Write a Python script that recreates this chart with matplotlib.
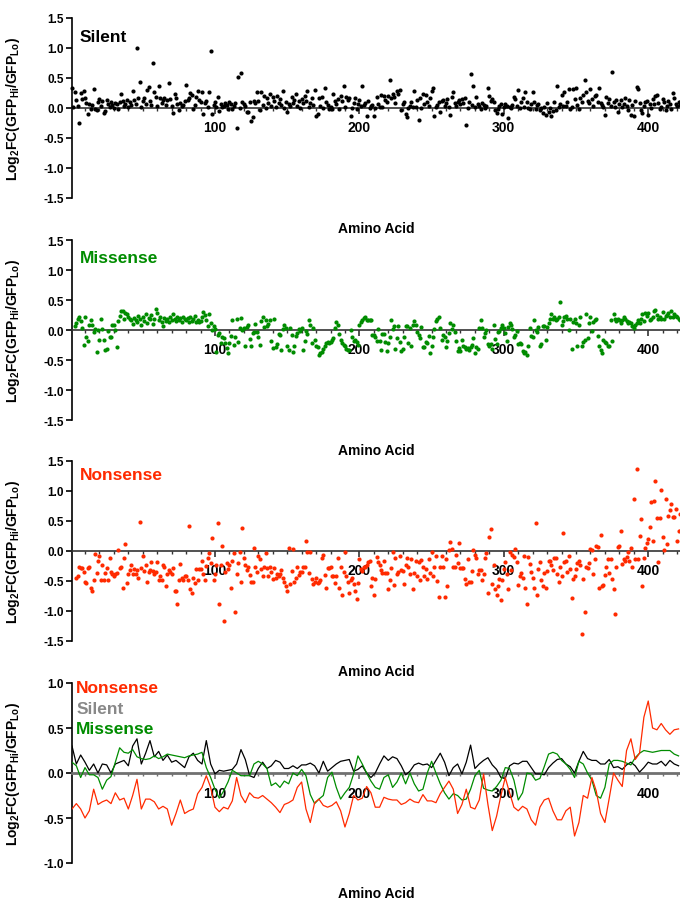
import numpy as np
import matplotlib
matplotlib.use('Agg')
import matplotlib.pyplot as plt
from matplotlib.ticker import MultipleLocator

plt.rcParams['font.family'] = ['Liberation Sans', 'DejaVu Sans']
plt.rcParams['font.weight'] = 'bold'
plt.rcParams['mathtext.fontset'] = 'custom'
plt.rcParams['mathtext.rm'] = 'Liberation Sans:bold'
plt.rcParams['mathtext.it'] = 'Liberation Sans:bold'
plt.rcParams['mathtext.bf'] = 'Liberation Sans:bold'
plt.rcParams['mathtext.default'] = 'bf'
plt.rcParams['axes.unicode_minus'] = False

RED   = '#ff2a00'
GREEN = '#008c00'
BLACK = '#000000'
GRAY  = '#888888'

# per amino acid Log2FC values (silent starts at aa 1, missense at 3, nonsense at 4)
silent_start = 1
silent = [
    0.34, 0.02, 0.26, 0.14, 0.04, -0.25, 0.25, 0.15, 0.28, 0.17,
    0.08, -0.10, 0.07, -0.02, 0.05, 0.31, -0.02, -0.04, 0.10, 0.15,
    0.03, 0.12, -0.08, -0.05, 0.14, 0.07, 0.02, 0.10, 0.05, 0.00,
    0.08, 0.06, -0.02, 0.10, 0.24, 0.12, 0.03, 0.07, 0.14, 0.02,
    0.10, 0.05, 0.29, 0.14, 0.06, 1.00, 0.16, 0.43, 0.02, 0.11,
    0.17, 0.07, 0.30, 0.35, 0.12, 0.05, 0.75, 0.27, 0.19, 0.04,
    0.37, 0.16, 0.08, 0.14, 0.17, 0.05, 0.13, 0.42, 0.15, 0.04,
    -0.09, 0.23, 0.16, 0.06, -0.04, 0.08, 0.03, 0.05, 0.12, 0.39,
    0.13, 0.17, 0.25, 0.22, -0.02, 0.05, 0.18, 0.28, 0.13, 0.10,
    0.27, -0.10, 0.08, 0.12, 0.02, 0.27, 0.95, -0.10, 0.05, 0.10,
    0.02, 0.18, -0.05, 0.06, 0.01, 0.03, 0.09, 0.05, -0.02, 0.10,
    0.07, -0.01, 0.04, 0.08, -0.33, 0.52, 0.00, 0.59, 0.10, 0.06,
    0.04, -0.06, -0.07, 0.10, -0.22, -0.15, 0.12, 0.08, 0.27, 0.11,
    -0.04, 0.26, 0.05, 0.20, 0.00, 0.17, 0.08, 0.24, 0.03, 0.18,
    0.12, 0.02, 0.20, 0.09, 0.15, 0.05, 0.28, 0.00, 0.10, -0.07,
    0.06, 0.03, 0.19, 0.08, 0.13, 0.24, 0.04, 0.11, 0.00, 0.15,
    0.08, 0.20, 0.12, 0.28, 0.02, 0.09, 0.17, 0.05, 0.30, -0.13,
    -0.10, 0.16, 0.03, 0.18, 0.00, 0.33, 0.10, 0.05, -0.02, 0.01,
    -0.02, 0.24, 0.12, 0.07, 0.15, -0.02, 0.20, 0.11, 0.37, 0.02,
    0.19, 0.13, 0.17, -0.13, 0.00, 0.08, 0.16, -0.02, 0.07, 0.13,
    0.03, 0.36, 0.05, 0.09, -0.13, 0.12, 0.00, 0.03, 0.05, -0.14,
    0.00, 0.19, 0.06, 0.01, 0.22, 0.02, 0.20, 0.13, 0.10, 0.20,
    0.46, 0.16, 0.24, 0.18, 0.08, 0.29, 0.23, 0.30, -0.03, 0.06,
    0.10, -0.10, -0.15, 0.00, 0.03, 0.10, 0.02, 0.29, 0.02, 0.13,
    -0.20, 0.17, 0.00, 0.24, 0.07, 0.21, 0.10, 0.03, 0.17, 0.28,
    0.33, -0.13, 0.01, 0.05, 0.10, -0.07, 0.12, 0.14, 0.04, 0.09,
    0.15, 0.02, -0.12, 0.18, 0.26, 0.08, 0.03, 0.10, 0.13, 0.06,
    0.15, 0.09, 0.17, -0.28, 0.00, 0.10, 0.56, 0.05, 0.37, 0.02,
    0.18, 0.06, 0.03, -0.02, 0.08, 0.05, 0.00, 0.03, 0.33, 0.20,
    0.12, 0.15, 0.10, -0.04, -0.08, -0.02, 0.04, 0.06, -0.10, 0.02,
    0.07, 0.03, -0.16, 0.02, 0.00, 0.05, 0.18, 0.15, 0.03, 0.30,
    0.00, 0.10, 0.16, 0.02, 0.27, 0.10, 0.00, -0.02, 0.06, 0.26,
    0.10, -0.01, 0.05, 0.07, -0.03, 0.00, -0.08, 0.02, -0.12, 0.08,
    -0.06, 0.00, -0.14, -0.05, 0.10, -0.03, 0.36, 0.02, 0.06, 0.22,
    0.03, 0.26, 0.03, 0.10, 0.32, -0.02, 0.02, 0.32, 0.15, 0.33,
    0.05, -0.01, 0.16, 0.10, 0.21, 0.46, 0.26, 0.12, 0.08, 0.32,
    0.15, 0.03, 0.20, 0.22, 0.10, 0.33, 0.08, 0.05, 0.02, -0.11,
    0.18, 0.08, 0.15, 0.04, 0.60, 0.10, 0.02, 0.13, -0.06, 0.07,
    0.14, 0.02, 0.07, 0.17, 0.03, -0.03, 0.14, -0.12, 0.05, -0.13,
    0.12, 0.35, 0.32, 0.08, -0.04, -0.08, 0.04, 0.10, 0.12, -0.11,
    0.07, 0.00, 0.15, 0.06, 0.20, 0.22, 0.08, -0.02, 0.02, 0.15,
    0.10, -0.03, 0.04, 0.12, 0.07, -0.02, 0.25, 0.16, 0.07, 0.03,
    0.10, 0.05, 0.12,
]

missense_start = 3
missense = [
    0.07, 0.12, 0.18, 0.22, 0.15, 0.03, -0.25, 0.21, -0.12, -0.19,
    0.08, 0.16, 0.09, -0.03, 0.02, -0.37, 0.00, -0.17, 0.18, 0.02,
    -0.17, -0.33, -0.31, -0.02, -0.12, -0.12, 0.08, 0.08, 0.00, -0.28,
    0.15, 0.23, 0.32, 0.32, 0.19, 0.29, 0.26, 0.22, 0.19, 0.17,
    0.10, 0.20, 0.16, 0.14, 0.24, 0.18, 0.08, 0.22, 0.15, 0.27,
    0.12, 0.20, 0.18, 0.25, 0.10, 0.18, 0.35, 0.28, 0.17, 0.21,
    0.14, 0.07, 0.20, 0.15, 0.19, 0.13, 0.22, 0.17, 0.26, 0.18,
    0.15, 0.21, 0.17, 0.20, 0.14, 0.21, 0.18, 0.16, 0.20, 0.13,
    0.22, 0.15, 0.19, 0.24, 0.14, 0.16, 0.13, 0.15, 0.22, 0.30,
    0.25, 0.16, 0.07, 0.26, 0.12, 0.00, 0.07, 0.02, -0.37, -0.08,
    -0.05, -0.22, -0.12, -0.14, -0.22, -0.30, -0.38, -0.22, -0.10, 0.17,
    -0.25, -0.12, 0.18, -0.20, 0.04, 0.20, 0.00, 0.04, -0.27, 0.05,
    0.08, -0.15, -0.27, -0.05, -0.03, 0.10, -0.03, -0.12, -0.25, 0.15,
    0.22, 0.05, 0.16, 0.06, 0.10, 0.17, -0.18, -0.30, 0.18, -0.29,
    -0.24, -0.06, -0.09, -0.33, 0.02, 0.08, 0.03, -0.26, -0.33, 0.03,
    -0.08, -0.36, -0.27, -0.10, -0.05, 0.01, -0.02, 0.04, -0.33, -0.19,
    -0.02, -0.06, 0.16, 0.09, -0.22, 0.04, -0.17, -0.26, -0.28, -0.41,
    -0.38, -0.36, -0.32, -0.27, -0.21, -0.20, -0.21, -0.20, -0.17, -0.13,
    0.04, 0.13, 0.08, -0.06, -0.16, -0.22, -0.25, -0.27, -0.31, -0.33,
    -0.33, 0.00, -0.12, -0.18, -0.16, -0.20, -0.25, 0.09, 0.14, 0.17,
    0.20, 0.22, 0.17, 0.16, 0.17, 0.16, -0.08, -0.09, -0.12, -0.19,
    0.02, -0.18, -0.34, -0.06, -0.07, -0.20, -0.35, -0.21, -0.12, 0.16,
    0.02, 0.06, -0.31, -0.14, 0.06, -0.20, -0.35, -0.32, -0.12, 0.07,
    0.06, -0.22, 0.04, -0.27, 0.09, 0.15, 0.08, -0.03, -0.08, -0.13,
    0.05, -0.28, -0.29, -0.20, -0.22, -0.10, -0.39, -0.27, -0.12, 0.01,
    0.15, 0.19, 0.21, 0.04, -0.17, -0.08, -0.11, -0.28, -0.18, -0.05,
    0.12, 0.02, 0.08, -0.04, -0.18, -0.35, -0.30, -0.35, -0.17, -0.26,
    -0.29, -0.32, -0.30, -0.33, -0.29, -0.25, -0.14, -0.38, -0.29, -0.31,
    0.04, 0.17, 0.03, -0.12, -0.05, 0.00, -0.24, -0.27, -0.24, -0.32,
    0.09, -0.15, -0.24, -0.04, -0.02, 0.04, 0.08, 0.04, -0.05, -0.19,
    0.05, 0.12, 0.08, 0.01, -0.12, -0.08, -0.02, -0.23, -0.22, -0.24,
    -0.35, -0.38, -0.36, -0.41, -0.26, 0.04, -0.10, -0.12, 0.16, 0.00,
    -0.03, 0.05, -0.27, -0.23, 0.07, 0.07, -0.16, 0.05, 0.12, 0.19,
    0.26, 0.18, 0.22, 0.16, 0.19, 0.21, 0.46, 0.08, 0.15, 0.21,
    0.24, 0.19, 0.00, 0.19, -0.31, 0.14, 0.18, 0.11, -0.27, 0.08,
    0.21, -0.27, -0.20, -0.16, 0.26, -0.14, 0.12, 0.21, -0.02, 0.14,
    0.17, 0.19, -0.10, -0.26, -0.33, -0.39, -0.16, -0.20, -0.21, -0.26,
    -0.26, 0.17, -0.18, 0.26, 0.18, 0.15, 0.19, 0.17, 0.11, 0.16,
    0.21, 0.19, 0.15, 0.11, 0.14, 0.12, 0.06, 0.03, 0.08, 0.12,
    0.17, 0.11, 0.19, 0.26, 0.15, 0.29, 0.24, 0.29, 0.17, 0.19,
    0.22, 0.32, 0.34, 0.25, 0.19, 0.22, 0.19, 0.30, 0.18, 0.23,
    0.25, 0.29, 0.22, 0.32, 0.22, 0.27, 0.23, 0.21, 0.19, 0.16,
]

nonsense_start = 4
nonsense = [
    -0.45, -0.41, -0.27, -0.28, -0.28, -0.35, -0.52, -0.53, -0.29, -0.27,
    -0.62, -0.67, -0.48, -0.05, -0.37, -0.16, -0.09, -0.48, -0.23, -0.49,
    -0.37, -0.29, -0.49, -0.12, -0.35, -0.38, -0.41, -0.38, -0.36, 0.01,
    -0.29, -0.26, -0.61, -0.12, 0.11, -0.54, -0.38, -0.31, -0.23, -0.38,
    -0.30, -0.38, -0.32, -0.45, 0.49, -0.28, -0.09, -0.33, -0.24, -0.51,
    -0.35, -0.31, -0.19, -0.33, -0.38, -0.35, -0.18, -0.49, -0.41, -0.49,
    -0.24, -0.26, -0.58, -0.39, -0.31, -0.35, -0.38, -0.29, -0.66, -0.66,
    -0.88, -0.49, -0.21, -0.45, -0.49, -0.41, -0.41, -0.48, 0.41, -0.63,
    -0.70, -0.45, -0.53, -0.30, -0.49, -0.30, -0.30, -0.16, -0.38, -0.48,
    -0.25, -0.11, -0.03, -0.20, 0.22, -0.48, -0.38, -0.23, 0.47, -0.88,
    -0.23, 0.09, -1.16, -0.35, -0.20, -0.30, -0.24, -0.61, -0.16, -0.03,
    -1.02, -0.39, -0.20, -0.01, -0.51, 0.39, -0.12, -0.24, -0.31, -0.27,
    -0.40, -0.51, -0.52, 0.05, -0.26, -0.35, -0.09, -0.14, -0.30, -0.41,
    -0.26, -0.03, -0.29, -0.42, -0.26, -0.35, -0.46, -0.29, -0.45, -0.39,
    -0.42, -0.38, -0.31, -0.45, -0.51, -0.58, -0.66, 0.05, -0.55, -0.33,
    0.03, -0.52, -0.45, -0.27, -0.40, -0.35, -0.35, -0.27, -0.27, 0.16,
    -0.02, -0.37, -0.01, -0.46, -0.55, -0.52, -0.45, -0.53, -0.51, -0.49,
    -0.12, -0.06, -0.40, -0.62, -0.29, -0.28, -0.26, -0.41, -0.42, -0.53,
    -0.41, -0.11, -0.62, -0.26, -0.74, -0.35, -0.01, -0.41, -0.51, -0.70,
    -0.49, -0.45, -0.55, -0.66, -0.80, -0.53, -0.13, -0.30, -0.33, -0.27,
    -0.27, -0.23, -0.19, -0.17, -0.58, -0.45, -0.74, -0.46, -0.10, -0.19,
    -0.24, -0.31, -0.37, -0.16, -0.36, -0.36, -0.64, -0.48, -0.29, -0.02,
    -0.56, -0.11, -0.38, -0.35, -0.09, -0.32, -0.33, -0.55, -0.23, -0.12,
    -0.26, -0.38, -0.14, -0.63, -0.37, -0.17, -0.41, -0.19, -0.49, -0.15,
    -0.26, -0.42, -0.30, -0.46, -0.13, -0.37, -0.02, -0.41, -0.27, -0.09,
    -0.50, -0.77, -0.27, -0.09, -0.27, -0.77, -0.13, -0.59, 0.01, 0.15,
    0.04, -0.27, -0.27, -0.07, -0.20, 0.14, -0.29, -0.29, -0.29, -0.47,
    -0.55, -0.13, -0.52, -0.52, -0.34, 0.02, -0.07, -0.12, -0.38, -0.31,
    -0.31, -0.48, -0.38, -0.11, -0.03, -0.70, 0.24, 0.37, -0.55, -0.24,
    -0.63, -0.74, -0.58, -0.46, -0.81, -0.49, -0.30, -0.18, -0.38, -0.63,
    -0.02, -0.32, -0.06, -0.10, 0.03, -0.19, -0.56, -0.41, -0.37, -0.45,
    -0.09, -0.61, -0.88, -0.10, -0.22, -0.35, -0.45, -0.61, 0.46, -0.74,
    -0.30, -0.18, -0.49, -0.58, -0.37, -0.62, -0.33, -0.16, -0.16, -0.24,
    -0.31, -0.12, -0.12, -0.39, -0.51, -0.27, -0.41, 0.30, -0.19, -0.17,
    -0.35, -0.08, -0.30, -0.79, -0.46, -0.41, -0.30, -0.20, -0.17, -0.24,
    -1.39, -0.46, -1.02, -0.27, -0.29, -0.20, 0.03, 0.01, -0.38, -0.13,
    0.09, 0.07, -0.61, 0.26, -0.59, -0.56, -0.40, -0.26, -0.14, -0.36,
    -0.13, -0.47, -0.63, -1.05, -0.27, 0.06, 0.09, 0.34, -0.22, -0.14,
    -0.16, -0.10, -0.02, -0.17, 0.05, -0.27, 0.86, -0.13, 1.36, -0.14,
    0.25, 0.54, -0.59, -0.12, 0.05, 0.14, 0.20, 0.40, 0.82, 0.17,
    0.84, 1.17, 0.55, -0.19, 0.55, 1.02, 0.23, 0.01, 0.87, 0.11,
    0.59, 0.69, 0.79, 0.57, 0.56, 0.70, 0.17, 0.33, 0.62, 0.35,
]

# smoothed traces, read every 3rd amino acid starting at aa 1
smooth_step = 3
silent_smooth = [
    0.30, 0.10, 0.20, 0.12, 0.03, 0.10, 0.00, 0.10, 0.09, 0.00,
    0.10, 0.12, 0.14, 0.08, 0.30, 0.38, 0.10, 0.22, 0.36, 0.18,
    0.24, 0.14, 0.20, 0.12, 0.14, 0.10, 0.06, 0.18, 0.22, 0.14,
    0.10, 0.36, 0.10, -0.01, 0.03, 0.02, 0.03, 0.04, 0.10, 0.26,
    0.15, -0.03, -0.05, 0.05, 0.12, 0.05, 0.08,
    0.14, 0.12, 0.05, 0.05, 0.08, 0.05, 0.09, 0.09, 0.11, 0.08,
    0.00, 0.13, 0.02, 0.06, 0.10, 0.13, 0.14, 0.15, 0.02, 0.04,
    0.08, 0.00, -0.05, 0.00, 0.10, 0.19, 0.14, 0.18, 0.16, 0.08,
    -0.02, 0.02, 0.09, 0.11, 0.09, 0.10, 0.06, 0.14, 0.22, 0.12,
    -0.03, 0.06, 0.10, -0.01, 0.12, 0.31, 0.05, 0.10,
    0.14, 0.17, 0.09, 0.04, -0.05, -0.06, 0.08, 0.11, 0.10, 0.13,
    0.13, 0.06, -0.01, -0.01, -0.02, 0.06, 0.11, 0.15, 0.16, 0.10,
    0.07, 0.00, 0.13, 0.24, 0.16, 0.14, 0.14, 0.10, 0.10, 0.15,
    0.06, 0.07, 0.04, 0.09, 0.12, 0.08, 0.01, 0.06, 0.12, 0.10,
    0.10, 0.13, 0.08, 0.14, 0.10, 0.08,
]
missense_smooth = [
    0.12, 0.08, -0.05, 0.06, -0.02, -0.02, -0.05, -0.18, -0.08, -0.04,
    0.12, 0.28, 0.23, 0.22, 0.26, 0.18, 0.16, 0.15, 0.16, 0.19,
    0.16, 0.18, 0.21, 0.20, 0.19, 0.18, 0.17, 0.19, 0.20, 0.21,
    0.23, 0.06, -0.05, -0.18, -0.28, -0.20, -0.10, 0.03, 0.00, -0.03,
    -0.03, -0.03, 0.10, 0.13, 0.10, 0.05, -0.14,
    -0.11, -0.16, -0.09, -0.12, 0.00, -0.03, 0.04, -0.03, -0.24, -0.34,
    -0.29, -0.25, -0.05, 0.01, -0.16, -0.29, -0.22, -0.16, -0.01, 0.19,
    0.10, 0.00, -0.09, -0.16, -0.18, -0.05, -0.02, -0.16, -0.10, 0.00,
    -0.12, 0.00, -0.12, -0.20, -0.18, 0.00, 0.13, 0.00, -0.12, -0.22,
    -0.29, -0.23, -0.25, -0.30, -0.29, -0.18, -0.03, 0.03,
    -0.17, -0.19, -0.20, -0.15, -0.08, 0.06, 0.05, -0.08, -0.30, -0.22,
    0.00, -0.01, -0.08, -0.06, 0.07, 0.21, 0.23, 0.21, 0.14, 0.10,
    0.04, -0.05, 0.13, 0.10, 0.00, -0.08, -0.25, -0.28, -0.16, 0.10,
    0.14, 0.14, 0.13, 0.11, 0.09, 0.17, 0.22, 0.25, 0.24, 0.23,
    0.24, 0.25, 0.25, 0.25, 0.21, 0.19,
]
nonsense_smooth = [
    -0.40, -0.34, -0.40, -0.50, -0.42, -0.18, -0.35, -0.32, -0.30, -0.34,
    -0.22, -0.30, -0.28, -0.40, -0.25, -0.07, -0.40, -0.29, -0.29, -0.32,
    -0.40, -0.37, -0.40, -0.58, -0.45, -0.30, -0.45, -0.42, -0.40, -0.23,
    -0.16, -0.03, -0.16, -0.38, -0.43, -0.38, -0.40, -0.31, -0.05, -0.25,
    -0.33, -0.22, -0.27, -0.28, -0.25, -0.29, -0.33,
    -0.38, -0.44, -0.35, -0.33, -0.30, -0.16, -0.10, -0.40, -0.55, -0.33,
    -0.29, -0.36, -0.38, -0.36, -0.32, -0.42, -0.60, -0.45, -0.25, -0.30,
    -0.28, -0.15, -0.22, -0.38, -0.38, -0.27, -0.29, -0.30, -0.30, -0.35,
    -0.33, -0.29, -0.32, -0.33, -0.24, -0.31, -0.31, -0.33, -0.23, -0.16,
    -0.09, -0.18, -0.45, -0.35, -0.18, -0.38, -0.40, -0.30,
    -0.01, -0.35, -0.64, -0.48, -0.25, -0.05, -0.22, -0.38, -0.42, -0.37,
    -0.40, -0.52, -0.58, -0.38, -0.30, -0.28, -0.42, -0.52, -0.52, -0.42,
    -0.38, -0.70, -0.55, -0.25, -0.28, -0.05, -0.20, -0.45, -0.55, -0.28,
    0.00, -0.08, -0.15, 0.25, 0.38, 0.15, 0.22, 0.62, 0.80, 0.50,
    0.48, 0.55, 0.48, 0.43, 0.48, 0.49,
]

X_MAX = 422
x_major = [100, 200, 300, 400]


def style_axis(ax, ylim, ystep, zero_color='#333333', zero_lw=1.2):
    ax.set_xlim(1, X_MAX)
    ax.set_ylim(*ylim)
    ax.set_yticks(np.arange(ylim[0], ylim[1] + 0.01, ystep))
    ax.yaxis.set_major_formatter(matplotlib.ticker.FormatStrFormatter('%.1f'))
    for side in ('top', 'right'):
        ax.spines[side].set_visible(False)
    ax.spines['bottom'].set_position(('data', 0))
    ax.spines['bottom'].set_color(zero_color)
    ax.spines['bottom'].set_linewidth(zero_lw)
    ax.spines['left'].set_linewidth(1.2)
    ax.set_xticks(x_major)
    ax.xaxis.set_minor_locator(MultipleLocator(10))
    ax.tick_params(axis='x', which='major', length=4, width=1.2, color=zero_color,
                   labelsize=10, pad=5)
    ax.tick_params(axis='x', which='minor', length=2.5, width=1.0, color=zero_color)
    ax.tick_params(axis='y', length=4, width=1.2, labelsize=8.5, pad=2)
    for lab in ax.get_xticklabels() + ax.get_yticklabels():
        lab.set_fontweight('bold')
    ax.set_ylabel(r'Log$_2$FC(GFP$_{Hi}$/GFP$_{Lo}$)', fontsize=10, fontweight='bold')
    ax.yaxis.set_label_coords(-0.083, 0.5)
    ax.text(0.5, -0.165, 'Amino Acid', transform=ax.transAxes, ha='center', va='center',
            fontsize=10, fontweight='bold')


fig = plt.figure(figsize=(6.8, 9.03), dpi=100)
left, width, height = 72 / 680, 608 / 680, 180 / 903
bottoms = [1 - 199 / 903, 1 - 421 / 903, 1 - 642 / 903, 1 - 864 / 903]

scatter_panels = [
    ('Silent', silent, silent_start, BLACK, 0.90),
    ('Missense', missense, missense_start, GREEN, 0.905),
    ('Nonsense', nonsense, nonsense_start, RED, 0.925),
]

for (name, vals, start, col, ty), b in zip(scatter_panels, bottoms[:3]):
    ax = fig.add_axes([left, b, width, height])
    style_axis(ax, (-1.5, 1.5), 0.5)
    x = np.arange(start, start + len(vals))
    ax.scatter(x, vals, s=9, color=col, linewidths=0, zorder=3, clip_on=False)
    ax.text(0.013, ty, name, transform=ax.transAxes, ha='left', va='center',
            fontsize=12.5, fontweight='bold', color=col)

ax = fig.add_axes([left, bottoms[3], width, height])
style_axis(ax, (-1.0, 1.0), 0.5, zero_color='#707070', zero_lw=2.0)
for vals, col in [(silent_smooth, BLACK), (missense_smooth, GREEN), (nonsense_smooth, RED)]:
    xs = np.arange(len(vals)) * smooth_step + 1
    ax.plot(xs, vals, color=col, lw=0.9, zorder=3)
for label, col, ty in [('Nonsense', RED, 0.975), ('Silent', GRAY, 0.86), ('Missense', GREEN, 0.745)]:
    ax.text(0.007, ty, label, transform=ax.transAxes, ha='left', va='center',
            fontsize=12.5, fontweight='bold', color=col)

fig.savefig('out.png', dpi=100)
